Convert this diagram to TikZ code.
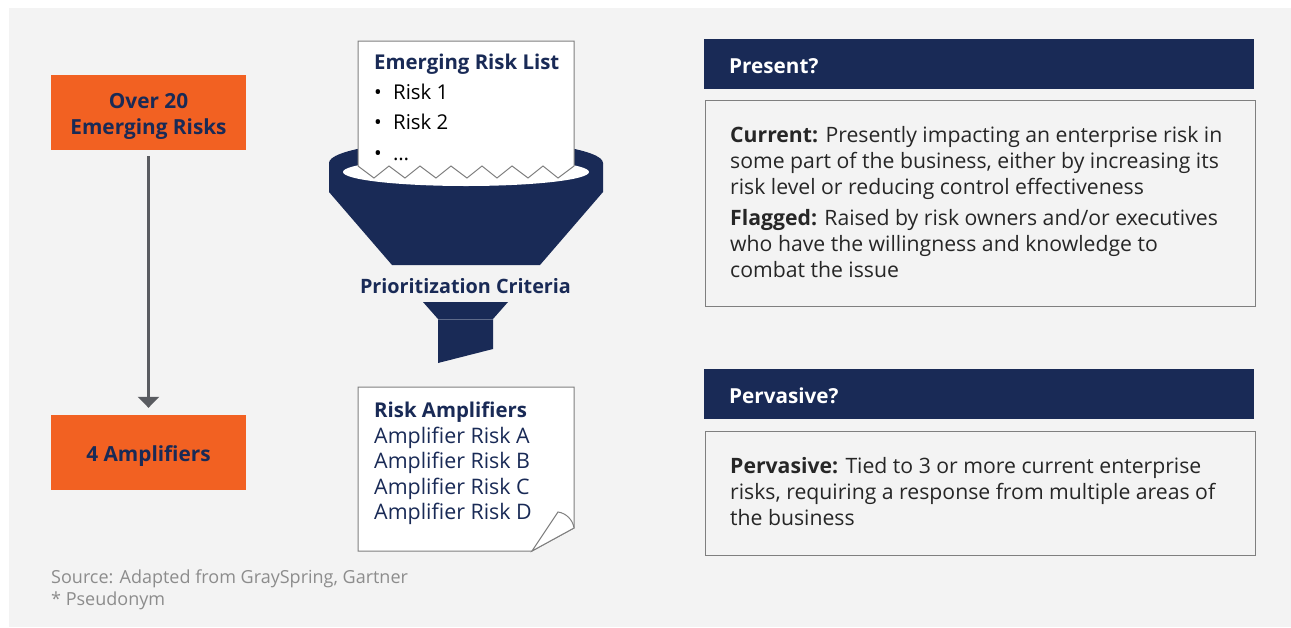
\documentclass[tikz,border=0pt]{standalone}
\usepackage{fontspec}
\usetikzlibrary{arrows.meta}
\setmainfont{Open Sans}
\definecolor{navy}{HTML}{192A56}
\definecolor{panelgrey}{HTML}{F3F3F3}
\definecolor{orangebox}{HTML}{F26122}
\definecolor{linegrey}{HTML}{7F7F7F}
\definecolor{arrowgrey}{HTML}{595B60}
\definecolor{srcgrey}{HTML}{8C8C8C}
\tikzset{
  riskbox/.style={fill=orangebox,draw=none,minimum width=195pt,minimum height=75pt,inner sep=0pt},
  risktext/.style={inner sep=0pt,align=center,text=navy,font=\fontsize{20.8}{26}\selectfont\bfseries,yshift=-4pt},
  header/.style={fill=navy,draw=none,minimum width=550pt,minimum height=50pt,inner sep=0pt},
  headtext/.style={anchor=base west,inner sep=0pt,text=white,font=\fontsize{20.7}{24}\selectfont\bfseries},
  panel/.style={fill=panelgrey,draw=linegrey,line width=1pt},
  paper/.style={fill=white,draw=linegrey,line width=1pt,line join=miter},
  body/.style={anchor=north west,inner sep=0pt,align=left,text=black!85,font=\fontsize{21.2}{26}\selectfont},
  navytxt/.style={anchor=base west,inner sep=0pt,text=navy,font=\fontsize{21.4}{25}\selectfont},
  title/.style={anchor=base west,inner sep=0pt,text=navy,font=\fontsize{20.4}{25}\selectfont\bfseries},
  listitem/.style={anchor=base west,inner sep=0pt,text=black,font=\fontsize{20.4}{25}\selectfont},
  src/.style={anchor=base west,inner sep=0pt,text=srcgrey,font=\fontsize{18}{21}\selectfont},
  flow/.style={draw=arrowgrey,fill=arrowgrey,line width=2.5pt,-{Triangle[width=21pt,length=11pt]},shorten <=6pt,shorten >=7pt},
}
\begin{document}
\begin{tikzpicture}[x=1pt,y=-1pt]
\useasboundingbox (0,0) rectangle (1291,627);
\fill[white] (0,0) rectangle (1291,627);
\fill[panelgrey] (9,8) rectangle (1291,627);

% left column
\node[riskbox,label={[risktext]center:Over 20\\Emerging Risks}] (over) at (148.5,112.5) {};
\node[riskbox,label={[risktext]center:4 Amplifiers}] (amp) at (148.5,452.5) {};
\draw[flow] (over.south) -- (amp.north);

% funnel
\fill[navy] (329,163) -- (603,163) -- (603,192) -- (540,265) -- (392,265) -- (329,192) -- cycle;
\fill[navy] (466,163) ellipse[x radius=137,y radius=23];
\fill[white] (466,172) ellipse[x radius=123,y radius=14];
\fill[navy] (423,302) -- (508,302) -- (493,319) -- (438,319) -- cycle;
\fill[navy] (438,319) -- (493,319) -- (493,349) -- (438,363) -- cycle;
\draw[white,opacity=.3,line width=.5pt] (438,319) -- (493,319);
\node[anchor=base,inner sep=0pt,text=navy,font=\fontsize{19.8}{25}\selectfont\bfseries] (crit) at (465.5,293) {Prioritization Criteria};

% emerging risk list
\draw[paper] (358,41) -- (574,41) -- (574,166) -- (558,178) -- (543,166) -- (528,178) -- (512,166) -- (497,178) -- (482,166) -- (467,178) -- (451,166) -- (436,178) -- (420,166) -- (405,178) -- (389,166) -- (374,178) -- (358,166) -- cycle;
\node[title] (t1) at (374,69) {Emerging Risk List};
\node[listitem] (b1) at (374,99) {•};
\node[listitem] (r1) at (393,99) {Risk 1};
\node[listitem] (b2) at (374,129) {•};
\node[listitem] (r2) at (393,129) {Risk 2};
\node[listitem] (b3) at (374,160) {•};
\node[listitem] (r3) at (393,160) {…};

% risk amplifiers
\draw[paper] (358,387) -- (574,387) -- (574,528) -- (532,551) -- (358,551) -- cycle;
\draw[paper] (532,551) -- (558,512) .. controls (566,513) and (573,520) .. (574,528) -- cycle;
\node[title] (t2) at (374,417) {Risk Amplifiers};
\node[navytxt] (a1) at (374,443) {Amplifier Risk A};
\node[navytxt] (a2) at (374,468.5) {Amplifier Risk B};
\node[navytxt] (a3) at (374,494) {Amplifier Risk C};
\node[navytxt] (a4) at (374,519.5) {Amplifier Risk D};

% right column
\node[header] (h1) at (979,64) {};
\node[headtext] (h1t) at (729,73) {Present?};
\draw[panel] (705,100) rectangle (1255,306);
\node[body] (cur) at (730,126.5) {\textbf{Current:} Presently impacting an enterprise risk in\\some part of the business, either by increasing its\\risk level or reducing control effectiveness};
\node[body] (flag) at (730,209.5) {\textbf{Flagged:} Raised by risk owners and/or executives\\who have the willingness and knowledge to\\combat the issue};
\node[header] (h2) at (979,394) {};
\node[headtext] (h2t) at (729,403) {Pervasive?};
\draw[panel] (705,431) rectangle (1255,555);
\node[body] (perv) at (730,457.5) {\textbf{Pervasive:} Tied to 3 or more current enterprise\\risks, requiring a response from multiple areas of\\the business};

% source
\node[src] (s1) at (51,583) {Source: Adapted from GraySpring, Gartner};
\node[src] (s2) at (51,605) {* Pseudonym};
\end{tikzpicture}
\end{document}
